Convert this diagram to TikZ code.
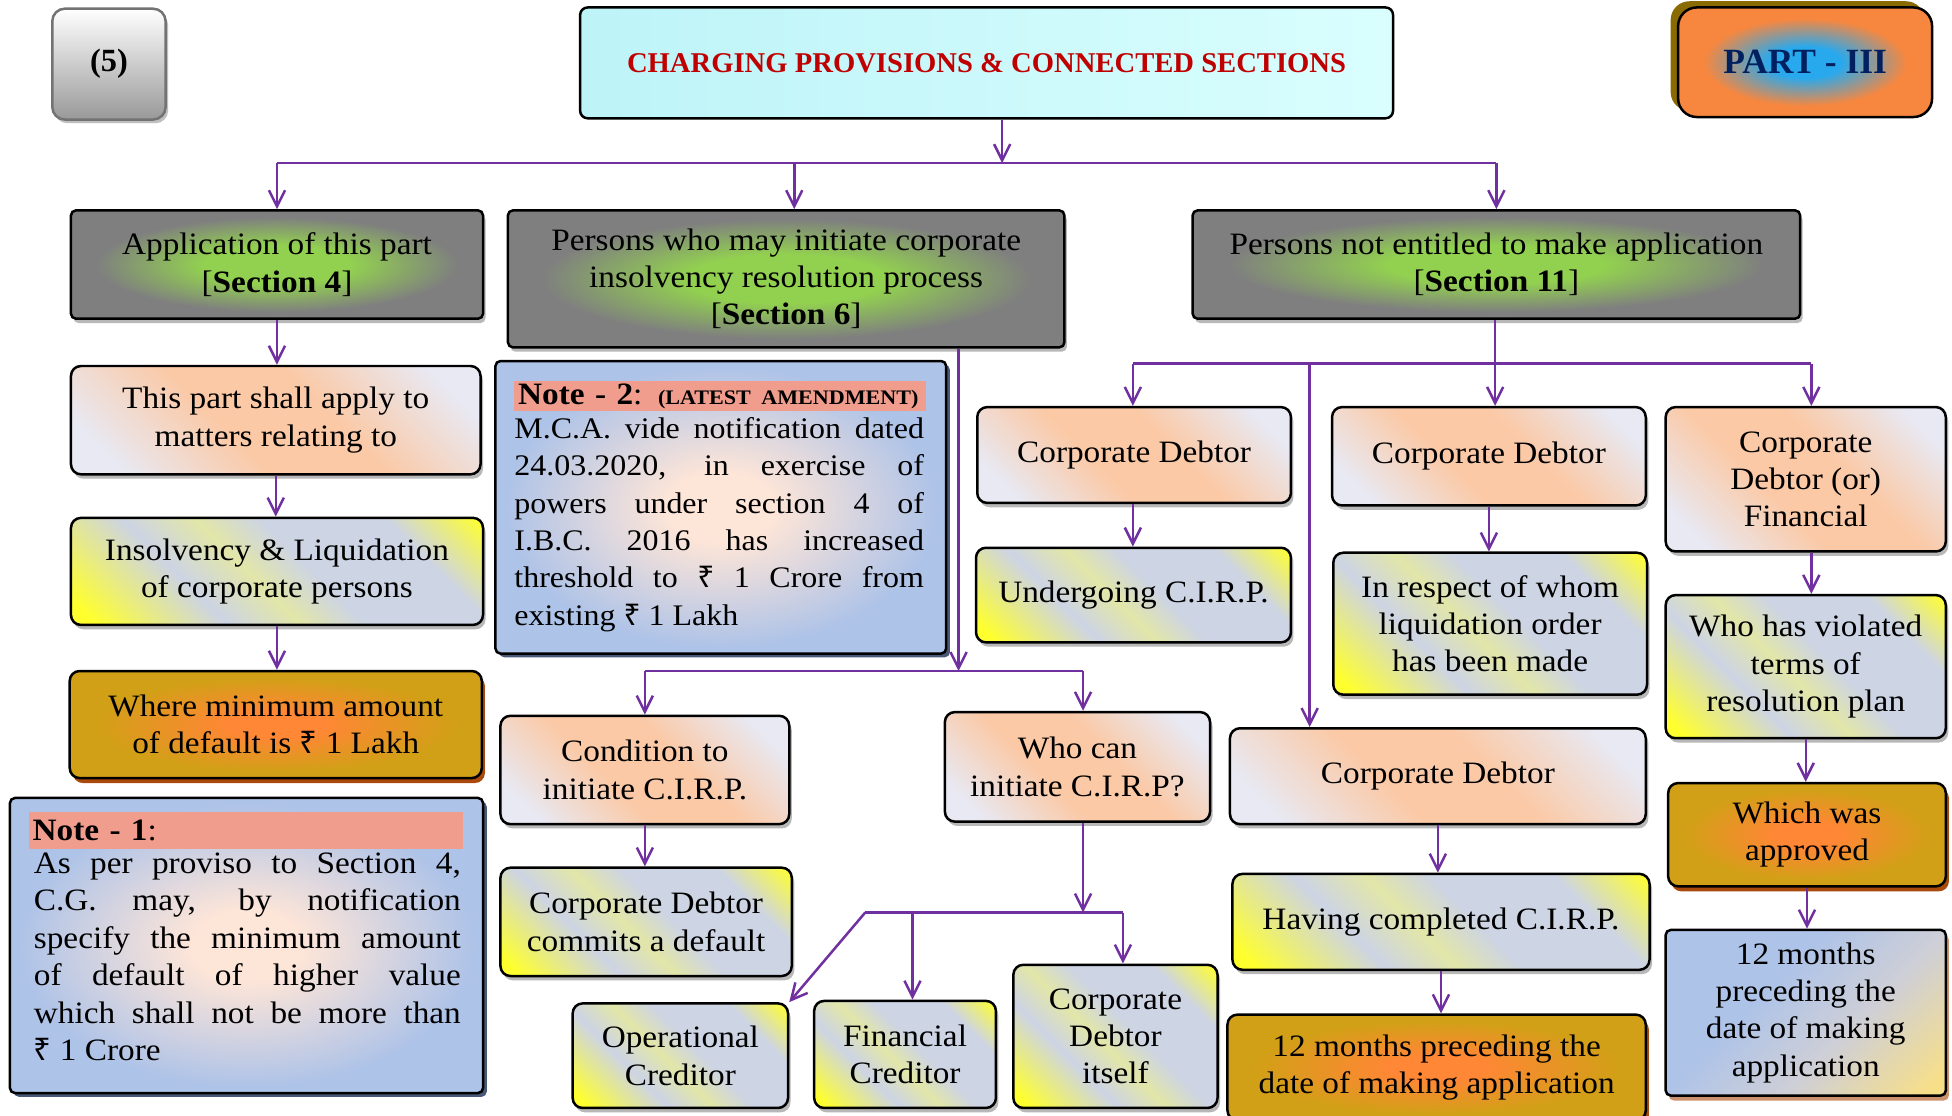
\documentclass[tikz,border=0pt]{standalone}
\usepackage{fontspec}
\setmainfont[FakeStretch=1.07]{Liberation Serif}
\newfontfamily\ttlfont{Liberation Serif}
\newfontfamily\rsfont{Noto Sans}
\usetikzlibrary{arrows.meta,shadows}
\newcommand\rs{{\rsfont ₹}}
\newcommand\mybody{\fontsize{25}{30}\selectfont}
\definecolor{arrowc}{HTML}{7030A0}
\definecolor{peach}{HTML}{FBC9A6}
\definecolor{lav}{HTML}{E8E9F3}
\definecolor{yel}{HTML}{FFFF2E}
\definecolor{gblue}{HTML}{CDD4E4}
\definecolor{gbyel}{HTML}{E2E6A8}
\definecolor{gry}{HTML}{7F7F7F}
\definecolor{grn}{HTML}{92D050}
\definecolor{gold}{HTML}{D1A016}
\definecolor{orng}{HTML}{FF8735}
\definecolor{nblue}{HTML}{AEC3E8}
\definecolor{npeach}{HTML}{FDE5D8}
\definecolor{salmon}{HTML}{F19D8E}
\definecolor{cyanl}{HTML}{DAFEFE}
\definecolor{cyand}{HTML}{BDF4F8}
\definecolor{titlered}{HTML}{C00000}
\definecolor{navy}{HTML}{002060}
\definecolor{porange}{HTML}{F7873F}
\definecolor{pblue}{HTML}{28A9EE}
\definecolor{olive}{HTML}{8A6A02}
\definecolor{p4y}{HTML}{F7DF88}
\definecolor{p4m}{HTML}{CFCFD6}
\definecolor{goldshd}{HTML}{A94A0C}
\definecolor{noteshd}{HTML}{4A5878}
\pgfdeclarehorizontalshading{peachsh}{100bp}{color(0bp)=(lav); color(22bp)=(lav); color(42bp)=(peach); color(58bp)=(peach); color(78bp)=(lav); color(100bp)=(lav)}
\pgfdeclarehorizontalshading{yelsh}{100bp}{color(0bp)=(yel); color(18bp)=(yel); color(36bp)=(gblue); color(46bp)=(gbyel); color(55bp)=(gblue); color(72bp)=(gblue); color(85bp)=(yel); color(100bp)=(yel)}
\pgfdeclarehorizontalshading{p4sh}{100bp}{color(0bp)=(nblue); color(40bp)=(nblue); color(60bp)=(p4m); color(82bp)=(p4y); color(100bp)=(p4y)}
\pgfdeclareradialshading{graysh}{\pgfpoint{0bp}{0bp}}{color(0bp)=(grn); color(9bp)=(grn); color(22bp)=(gry); color(50bp)=(gry)}
\pgfdeclareradialshading{goldsh}{\pgfpoint{0bp}{0bp}}{color(0bp)=(orng); color(6bp)=(orng); color(22bp)=(gold); color(50bp)=(gold)}
\pgfdeclareradialshading{notesh}{\pgfpoint{0bp}{0bp}}{color(0bp)=(npeach); color(6bp)=(npeach); color(24bp)=(nblue); color(50bp)=(nblue)}
\pgfdeclareradialshading{partsh}{\pgfpoint{0bp}{0bp}}{color(0bp)=(pblue); color(7bp)=(pblue); color(20bp)=(porange); color(50bp)=(porange)}
\tikzset{
 boxbase/.style={draw=black, line width=2pt, align=center, inner sep=0pt, font=\mybody, text=black},
 sz/.style 2 args={minimum width=#1pt, minimum height=#2pt},
 lshadow/.style={drop shadow={shadow xshift=2pt, shadow yshift=-3.5pt, fill=black!28, opacity=1}},
 pbox/.style={boxbase, rounded corners=8pt, shading=peachsh, shading angle=45, lshadow},
 ybox/.style={boxbase, rounded corners=8pt, shading=yelsh, shading angle=45, lshadow},
 gbox/.style={boxbase, rounded corners=4pt, shading=graysh, lshadow},
 goldbox/.style={boxbase, rounded corners=8pt, shading=goldsh, drop shadow={shadow xshift=2.5pt, shadow yshift=-4pt, fill=goldshd, opacity=1}},
 notebox/.style={boxbase, rounded corners=4pt, shading=notesh, drop shadow={shadow xshift=3pt, shadow yshift=-3pt, fill=noteshd, opacity=1}},
 hdr/.style={fill=salmon, anchor=north west, inner xsep=3pt, inner ysep=0pt, align=left, font=\mybody},
 ln/.style={draw=arrowc, line width=2pt},
 arr/.style={ln, -{Straight Barb[length=13pt,width=13pt]}},
}
\begin{document}
\begin{tikzpicture}[x=1pt,y=-1pt]
\useasboundingbox (0,0) rectangle (1568,896);
\fill[white] (0,0) rectangle (1568,896);

% header row
\node[boxbase, sz={91}{89}, rounded corners=10pt, top color=white, bottom color=black!40, draw=black!55, drop shadow={shadow xshift=2pt, shadow yshift=-3pt, fill=black!25, opacity=1}, font=\ttlfont\bfseries\fontsize{26}{30}\selectfont] (five) at (87.5,51.5) {(5)};
\node[boxbase, sz={653}{89}, rounded corners=6pt, left color=cyand, right color=cyanl, text=titlered, font=\ttlfont\bfseries\fontsize{23}{28}\selectfont] (title) at (792.5,50.5) {CHARGING PROVISIONS \& CONNECTED SECTIONS};
\node[boxbase, sz={204}{88}, rounded corners=15pt, shading=partsh, text=navy, font=\ttlfont\bfseries\fontsize{28.5}{30}\selectfont, drop shadow={shadow xshift=-6pt, shadow yshift=5pt, fill=olive, opacity=1}] (part) at (1450,50) {PART - III};

% level 1
\node[gbox, sz={331}{87}] (A) at (222.5,212.5) {Application of this part\\{}[\textbf{Section 4}]};
\node[gbox, sz={447}{110}] (B) at (631.5,224) {Persons who may initiate corporate\\insolvency resolution process\\{}[\textbf{Section 6}]};
\node[gbox, sz={488}{87}] (C) at (1202,212.5) {Persons not entitled to make application\\{}[\textbf{Section 11}]};

% left column
\node[pbox, sz={329}{87}] (D) at (221.5,337.5) {This part shall apply to\\matters relating to};
\node[ybox, sz={331}{86}] (E) at (222.5,459) {Insolvency \& Liquidation\\of corporate persons};
\node[goldbox, sz={331}{86}] (F) at (221.5,582) {Where minimum amount\\of default is \rs\ 1 Lakh};
\node[notebox, sz={380}{237}] (N1) at (198,759.5) {};
\node[hdr, minimum width=349pt, minimum height=30pt, text width=343pt] (N1h) at (23,652) {\textbf{Note - 1}:};
\node[anchor=north west, inner sep=0pt, align=left, font=\mybody] (N1t) at (27,685) {%
\makebox[343pt][s]{As per proviso to Section 4,}\\
\makebox[343pt][s]{C.G. may, by notification}\\
\makebox[343pt][s]{specify the minimum amount}\\
\makebox[343pt][s]{of default of higher value}\\
\makebox[343pt][s]{which shall not be more than}\\
\rs\ 1 Crore};

% middle column
\node[notebox, sz={362}{235}] (N2) at (579,407.5) {};
\node[hdr, minimum width=331pt, minimum height=24pt, text width=325pt] (N2h) at (413,306) {\mbox{\textbf{Note - 2}: {\fontsize{16.6}{20}\selectfont\textbf{(LATEST AMENDMENT)}}}};
\node[anchor=north west, inner sep=0pt, align=left, font=\fontsize{24}{30}\selectfont] (N2t) at (413,335) {%
\makebox[329pt][s]{M.C.A. vide notification dated}\\
\makebox[329pt][s]{24.03.2020, in exercise of}\\
\makebox[329pt][s]{powers under section 4 of}\\
\makebox[329pt][s]{I.B.C. 2016 has increased}\\
\makebox[329pt][s]{threshold to \rs\ 1 Crore from}\\
existing \rs\ 1 Lakh};
\node[pbox, sz={232}{87}] (G) at (518,618.5) {Condition to\\initiate C.I.R.P.};
\node[ybox, sz={234}{87}] (H) at (519,740.5) {Corporate Debtor\\commits a default};
\node[pbox, sz={213}{88}] (I) at (865.5,616) {Who can\\initiate C.I.R.P?};
\node[ybox, sz={173}{84}] (J) at (546.5,848) {Operational\\Creditor};
\node[ybox, sz={146}{86}] (K) at (727,847) {Financial\\Creditor};
\node[ybox, sz={164}{115}] (L) at (896,832.5) {Corporate\\Debtor\\itself};

% right section
\node[pbox, sz={252}{77}] (R1) at (911,365.5) {Corporate Debtor};
\node[ybox, sz={253}{76}] (R2) at (910.5,478) {Undergoing C.I.R.P.};
\node[pbox, sz={252}{79}] (O1) at (1196,366.5) {Corporate Debtor};
\node[ybox, sz={252}{114}] (O2) at (1197,501) {In respect of whom\\liquidation order\\has been made};
\node[pbox, sz={225}{116}] (P1) at (1450.5,385) {Corporate\\Debtor (or)\\Financial};
\node[ybox, sz={225}{115}] (P2) at (1450.5,535.5) {Who has violated\\terms of\\resolution plan};
\node[goldbox, sz={223}{83}] (P3) at (1451.5,670.5) {Which was\\approved};
\node[boxbase, rounded corners=4pt, sz={225}{133}, shading=p4sh, shading angle=-45, drop shadow={shadow xshift=2.5pt, shadow yshift=-4pt, fill=goldshd!60, opacity=1}] (P4) at (1450.5,813.5) {12 months\\preceding the\\date of making\\application};
\node[pbox, sz={334}{77}] (M1) at (1155,623.5) {Corporate Debtor};
\node[ybox, sz={335}{77}] (M2) at (1157.5,740.5) {Having completed C.I.R.P.};
\node[goldbox, sz={336}{85}] (M3) at (1154,857.5) {12 months preceding the\\date of making application};

% connectors: top
\coordinate (t0) at (805,131);
\coordinate (tB) at (638,131);
\draw[arr] (title.south -| t0) -- (t0);
\draw[ln] (A.north |- t0) -- (C.north |- t0);
\draw[arr] (A.north |- t0) -- (A.north);
\draw[arr] (tB) -- (tB |- B.north);
\draw[arr] (C.north |- t0) -- (C.north);

% left
\draw[arr] (A.south) -- (A.south |- D.north);
\draw[arr] (D.south) -- (D.south |- E.north);
\draw[arr] (E.south) -- (E.south |- F.north);

% middle
\coordinate (m0) at (770,539);
\coordinate (m1) at (870,539);
\draw[arr] (B.south -| m0) -- (m0);
\draw[ln] (G.north |- m0) -- (m1);
\draw[arr] (G.north |- m0) -- (G.north);
\draw[arr] (m1) -- (m1 |- I.north);
\draw[arr] (G.south) -- (G.south |- H.north);
\coordinate (w0) at (870,733);
\coordinate (w1) at (695,733);
\coordinate (w2) at (733,733);
\coordinate (w3) at (902,733);
\draw[arr] (I.south -| w0) -- (w0);
\draw[ln] (w1) -- (w3);
\draw[arr] (w1) -- (J.north east);
\draw[arr] (w2) -- (w2 |- K.north);
\draw[arr] (w3) -- (w3 |- L.north);

% right
\coordinate (r0) at (1201,292);
\coordinate (r1) at (910,292);
\coordinate (r2) at (1052,292);
\coordinate (r3) at (1455,292);
\draw[ln] (C.south -| r0) -- (r0);
\draw[ln] (r1) -- (r3);
\draw[arr] (r1) -- (r1 |- R1.north);
\draw[arr] (r0) -- (r0 |- O1.north);
\draw[arr] (r3) -- (r3 |- P1.north);
\draw[arr] (r2) -- (r2 |- M1.north);
\draw[arr] (R1.south -| r1) -- (r1 |- R2.north);
\draw[arr] (O1.south) -- (O1.south |- O2.north);
\draw[arr] (P1.south -| r3) -- (r3 |- P2.north);
\draw[arr] (P2.south) -- (P2.south |- P3.north);
\draw[arr] (P3.south) -- (P3.south |- P4.north);
\draw[arr] (M1.south) -- (M1.south |- M2.north);
\draw[arr] (M2.south) -- (M2.south |- M3.north);
\end{tikzpicture}
\end{document}
